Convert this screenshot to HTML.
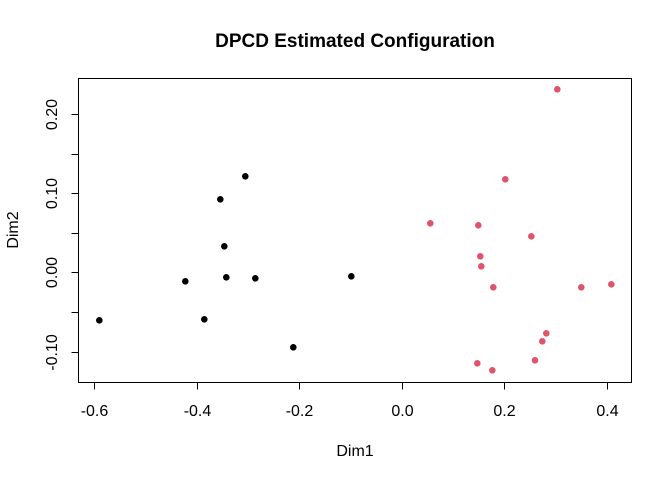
<!DOCTYPE html>
<html><head><meta charset="utf-8"><style>html,body{margin:0;padding:0;background:#fff}</style></head>
<body>
<svg width="672" height="480" viewBox="0 0 672 480" xmlns="http://www.w3.org/2000/svg" font-family="Liberation Sans, Arial, sans-serif">
<rect width="672" height="480" fill="#fff"/>
<text x="355" y="47" text-anchor="middle" font-size="19" font-weight="bold">DPCD Estimated Configuration</text>
<rect x="78.5" y="78.5" width="553" height="304" fill="none" stroke="#000" stroke-width="1"/>
<g stroke="#000" stroke-width="1">
<line x1="94.5" y1="382.5" x2="94.5" y2="389.5"/>
<line x1="197.5" y1="382.5" x2="197.5" y2="389.5"/>
<line x1="299.5" y1="382.5" x2="299.5" y2="389.5"/>
<line x1="402.5" y1="382.5" x2="402.5" y2="389.5"/>
<line x1="504.5" y1="382.5" x2="504.5" y2="389.5"/>
<line x1="607.5" y1="382.5" x2="607.5" y2="389.5"/>
<line x1="71.5" y1="114.5" x2="78.5" y2="114.5"/>
<line x1="71.5" y1="154.5" x2="78.5" y2="154.5"/>
<line x1="71.5" y1="193.5" x2="78.5" y2="193.5"/>
<line x1="71.5" y1="233.5" x2="78.5" y2="233.5"/>
<line x1="71.5" y1="272.5" x2="78.5" y2="272.5"/>
<line x1="71.5" y1="312.5" x2="78.5" y2="312.5"/>
<line x1="71.5" y1="352.5" x2="78.5" y2="352.5"/>
</g>
<g font-size="16" text-anchor="middle">
<text x="94.5" y="416">-0.6</text>
<text x="197.5" y="416">-0.4</text>
<text x="299.5" y="416">-0.2</text>
<text x="402.5" y="416">0.0</text>
<text x="504.5" y="416">0.2</text>
<text x="607.5" y="416">0.4</text>
<text transform="translate(57,114.5) rotate(-90)">0.20</text>
<text transform="translate(57,193.5) rotate(-90)">0.10</text>
<text transform="translate(57,272.5) rotate(-90)">0.00</text>
<text transform="translate(57,352.5) rotate(-90)">-0.10</text>
<text x="355" y="456">Dim1</text>
<text transform="translate(18,230) rotate(-90)">Dim2</text>
</g>
<g fill="#000">
<circle cx="245.3" cy="176.3" r="3.3"/><circle cx="220.3" cy="199.3" r="3.3"/>
<circle cx="224.3" cy="246.3" r="3.3"/><circle cx="185.3" cy="281.3" r="3.3"/>
<circle cx="226.3" cy="277.3" r="3.3"/><circle cx="255.3" cy="278.3" r="3.3"/>
<circle cx="351.3" cy="276.3" r="3.3"/><circle cx="99.3" cy="320.3" r="3.3"/>
<circle cx="204.3" cy="319.3" r="3.3"/><circle cx="293.3" cy="347.3" r="3.3"/>
</g>
<g fill="#DF536B">
<circle cx="557.3" cy="89.3" r="3.3"/><circle cx="505.3" cy="179.3" r="3.3"/>
<circle cx="430.3" cy="223.3" r="3.3"/><circle cx="478.3" cy="225.3" r="3.3"/>
<circle cx="531.3" cy="236.3" r="3.3"/><circle cx="480.3" cy="256.3" r="3.3"/>
<circle cx="481.3" cy="266.3" r="3.3"/><circle cx="493.3" cy="287.3" r="3.3"/>
<circle cx="581.3" cy="287.3" r="3.3"/><circle cx="611.3" cy="284.3" r="3.3"/>
<circle cx="546.3" cy="333.3" r="3.3"/><circle cx="542.3" cy="341.3" r="3.3"/>
<circle cx="535" cy="360.3" r="3.3"/><circle cx="477.3" cy="363.3" r="3.3"/>
<circle cx="492.3" cy="370.3" r="3.3"/>
</g>
</svg>
</body></html>
